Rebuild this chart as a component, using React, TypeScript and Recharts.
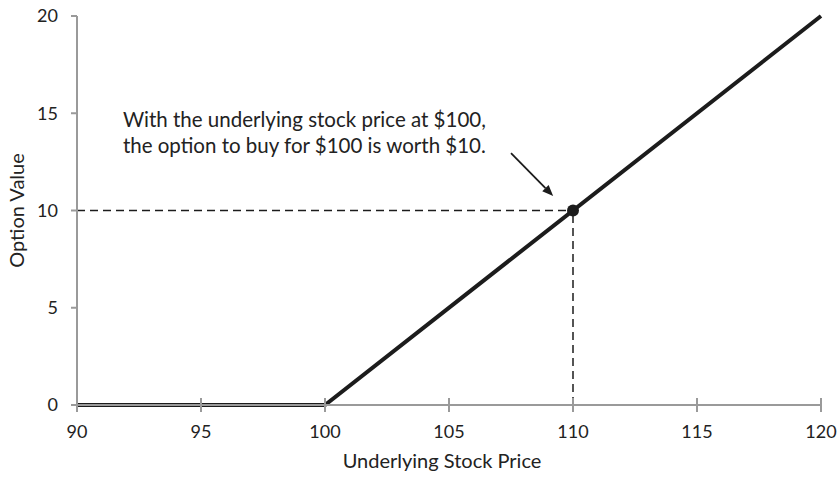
import {
  LineChart,
  Line,
  XAxis,
  YAxis,
  ReferenceLine,
  ReferenceDot,
} from "recharts";

const stockPrices = [90, 100, 120];
const optionValues = [0, 0, 20];
const xTicks = [90, 95, 100, 105, 110, 115, 120];
const yTicks = [0, 5, 10, 15, 20];
const markerPoint = { x: 110, y: 10 };
const arrowFrom = { x: 107.5, y: 12.95 };
const arrowTo = { x: 109.2, y: 10.75 };
const noteAnchor = { x: 91.85, y: 14.75 };
const noteLines = [
  "With the underlying stock price at $100,",
  "the option to buy for $100 is worth $10.",
];

const data = stockPrices.map((p, i) => ({ price: p, value: optionValues[i] }));

const FONT = "Lato, 'Open Sans', sans-serif";
const AXIS = "#9a9a9a";
const INK = "#1c1c1c";
const TEXT = "#222222";

function XTick(props: any) {
  const { x, y, payload } = props;
  const axisY = y - 7 - 13;
  return (
    <g>
      <line x1={x} x2={x} y1={axisY - 7} y2={axisY + 7} stroke={AXIS} strokeWidth={2} />
      <text x={x} y={y} dy="0.71em" textAnchor="middle" fill={TEXT} fontSize={18} fontFamily={FONT}>
        {payload.value}
      </text>
    </g>
  );
}

function Arrow(props: any) {
  const { x1, y1, x2, y2 } = props;
  const ang = Math.atan2(y2 - y1, x2 - x1);
  const len = 11;
  const w = 4.5;
  const bx = x2 - len * Math.cos(ang);
  const by = y2 - len * Math.sin(ang);
  const px = -Math.sin(ang) * w;
  const py = Math.cos(ang) * w;
  return (
    <g>
      <line x1={x1} y1={y1} x2={bx} y2={by} stroke={INK} strokeWidth={1.8} />
      <polygon points={`${x2},${y2} ${bx + px},${by + py} ${bx - px},${by - py}`} fill={INK} />
    </g>
  );
}

function Note(props: any) {
  const { viewBox } = props;
  const cx = viewBox.x + (viewBox.width || 0) / 2;
  const cy = viewBox.y + (viewBox.height || 0) / 2;
  return (
    <text x={cx} y={cy} fill={TEXT} fontSize={20.5} fontFamily={FONT} textAnchor="start">
      {noteLines.map((t, i) => (
        <tspan key={i} x={cx} y={cy + 9 + i * 26}>
          {t}
        </tspan>
      ))}
    </text>
  );
}

function XTitle(props: any) {
  const { viewBox } = props;
  return (
    <text
      x={viewBox.x + viewBox.width / 2 - 7}
      y={viewBox.y + 63}
      textAnchor="middle"
      fill={TEXT}
      fontSize={20}
      fontFamily={FONT}
    >
      Underlying Stock Price
    </text>
  );
}

function YTitle(props: any) {
  const { viewBox } = props;
  const cx = 16;
  const cy = viewBox.y + viewBox.height / 2;
  return (
    <text
      x={cx}
      y={cy}
      transform={`rotate(-90, ${cx}, ${cy})`}
      textAnchor="middle"
      dominantBaseline="central"
      fill={TEXT}
      fontSize={20}
      fontFamily={FONT}
    >
      Option Value
    </text>
  );
}

export default function App() {
  return (
    <div style={{ width: 838, height: 480 }}>
      <style>{"body{margin:0}"}</style>
      <LineChart
        width={838}
        height={480}
        data={data}
        margin={{ top: 16, right: 17, bottom: 0, left: 0 }}
      >
        <XAxis
          dataKey="price"
          type="number"
          domain={[90, 120]}
          ticks={xTicks}
          axisLine={{ stroke: AXIS, strokeWidth: 2 }}
          tickLine={false}
          tickSize={7}
          tickMargin={13}
          tick={<XTick />}
          height={75}
          label={{ content: <XTitle /> }}
        />
        <YAxis
          type="number"
          domain={[0, 20]}
          ticks={yTicks}
          width={77}
          axisLine={{ stroke: AXIS, strokeWidth: 2 }}
          tickLine={{ stroke: AXIS, strokeWidth: 2 }}
          tickSize={6}
          tickMargin={13}
          tick={{ fill: TEXT, fontSize: 18, fontFamily: FONT }}
          label={{ content: <YTitle /> }}
        />
        <ReferenceLine
          segment={[
            { x: 90, y: markerPoint.y },
            { x: markerPoint.x, y: markerPoint.y },
          ]}
          stroke={INK}
          strokeWidth={1.5}
          strokeDasharray="8 5"
        />
        <ReferenceLine
          segment={[
            { x: markerPoint.x, y: 0 },
            { x: markerPoint.x, y: markerPoint.y },
          ]}
          stroke={INK}
          strokeWidth={1.5}
          strokeDasharray="8 5"
        />
        <Line
          dataKey="value"
          stroke={INK}
          strokeWidth={4}
          dot={false}
          activeDot={false}
          isAnimationActive={false}
        />
        <ReferenceDot x={markerPoint.x} y={markerPoint.y} r={6} fill={INK} stroke="none" />
        <ReferenceLine segment={[arrowFrom, arrowTo]} shape={<Arrow />} />
        <ReferenceDot
          x={noteAnchor.x}
          y={noteAnchor.y}
          r={0}
          fill="none"
          stroke="none"
          label={<Note />}
        />
      </LineChart>
    </div>
  );
}
